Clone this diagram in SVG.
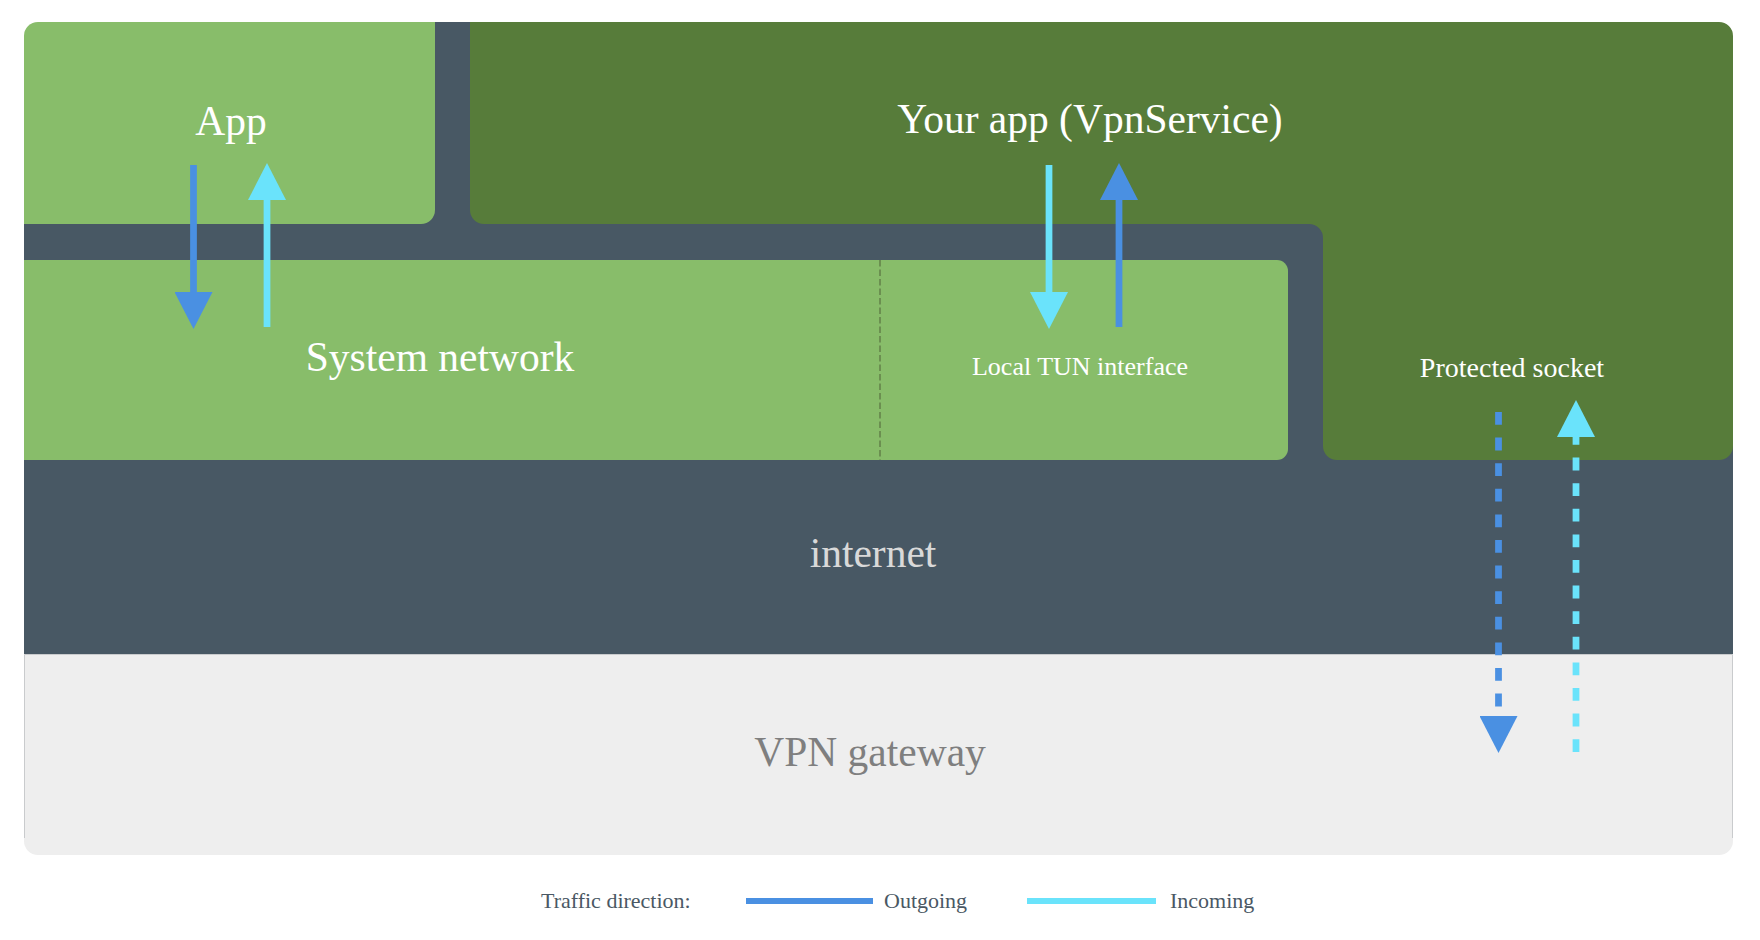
<svg xmlns="http://www.w3.org/2000/svg" width="1760" height="940" viewBox="0 0 1760 940">
  <style>
    text { font-family: "Liberation Serif", "Times New Roman", serif; text-anchor: middle; }
    .big { font-size: 41.5px; fill: #ffffff; }
    .inet { font-size: 41.5px; fill: #d9d9d9; }
    .gw { font-size: 41.5px; fill: #7f7f7f; }
    .mid { fill: #ffffff; }
    .legend { font-size: 22px; fill: #4a5864; text-anchor: start; }
    .out { stroke: #4a90e2; stroke-width: 6.75; fill: none; }
    .inc { stroke: #6ae3fb; stroke-width: 6.75; fill: none; }
    .dash { stroke-dasharray: 12.8 12.8; }
  </style>
  <defs>
    <marker id="headOut" markerUnits="userSpaceOnUse" markerWidth="38" markerHeight="38" refX="0" refY="19" orient="auto" viewBox="0 0 38 38">
      <path d="M0,0 L37,19 L0,38 Z" fill="#4a90e2"/>
    </marker>
    <marker id="headInc" markerUnits="userSpaceOnUse" markerWidth="38" markerHeight="38" refX="0" refY="19" orient="auto" viewBox="0 0 38 38">
      <path d="M0,0 L37,19 L0,38 Z" fill="#6ae3fb"/>
    </marker>
  </defs>

  <g id="internet">
    <rect x="24" y="40" width="1709" height="614" fill="#485864"/>
    <rect x="430" y="22" width="45" height="40" fill="#485864"/>
    <text class="inet" x="873" y="567">internet</text>
  </g>

  <g id="vpn-gateway">
    <path d="M24,654 H1733 V841 A14,14 0 0 1 1719,855 H38 A14,14 0 0 1 24,841 Z" fill="#eeeeee"/>
    <path d="M24.5,838 V654.5 H1732.5 V838" fill="none" stroke="#c9cbcd" stroke-width="1"/>
    <text class="gw" x="870" y="766">VPN gateway</text>
  </g>

  <g id="app">
    <path d="M24,36 A14,14 0 0 1 38,22 H435 V210 A14,14 0 0 1 421,224 H24 Z" fill="#88bd6a"/>
    <text class="big" x="231" y="135">App</text>
  </g>

  <g id="your-app">
    <path d="M470,22 H1719 A14,14 0 0 1 1733,36 V446 A14,14 0 0 1 1719,460 H1337 A14,14 0 0 1 1323,446 V238 A14,14 0 0 0 1309,224 H484 A14,14 0 0 1 470,210 Z" fill="#577c3a"/>
    <text class="big" x="1090" y="133">Your app (VpnService)</text>
  </g>

  <g id="protected-socket">
    <text class="mid" x="1512" y="377" font-size="28">Protected socket</text>
  </g>

  <g id="system-network">
    <path d="M24,260 H1277 A11,11 0 0 1 1288,271 V449 A11,11 0 0 1 1277,460 H24 Z" fill="#88bd6a"/>
    <line x1="880" y1="260" x2="880" y2="460" stroke="#6b8f50" stroke-width="2" stroke-dasharray="6.5 3"/>
    <text class="big" x="440" y="371">System network</text>
  </g>

  <g id="local-tun">
    <text class="mid" x="1080" y="375" font-size="26">Local TUN interface</text>
  </g>

  <g id="connectors">
    <line class="out" x1="193.5" y1="165" x2="193.5" y2="292" marker-end="url(#headOut)"/>
    <line class="inc" x1="267" y1="327" x2="267" y2="200" marker-end="url(#headInc)"/>
    <line class="inc" x1="1049" y1="165" x2="1049" y2="292" marker-end="url(#headInc)"/>
    <line class="out" x1="1119" y1="327" x2="1119" y2="200" marker-end="url(#headOut)"/>
    <line class="out dash" x1="1498.5" y1="412" x2="1498.5" y2="716" marker-end="url(#headOut)"/>
    <line class="inc dash" x1="1576" y1="752" x2="1576" y2="437" marker-end="url(#headInc)"/>
  </g>

  <g id="legend">
    <text class="legend" x="541" y="908">Traffic direction:</text>
    <line x1="746" y1="901" x2="873" y2="901" stroke="#4a90e2" stroke-width="6"/>
    <text class="legend" x="884" y="908">Outgoing</text>
    <line x1="1027" y1="901" x2="1156" y2="901" stroke="#6ae3fb" stroke-width="6"/>
    <text class="legend" x="1170" y="908">Incoming</text>
  </g>
</svg>
